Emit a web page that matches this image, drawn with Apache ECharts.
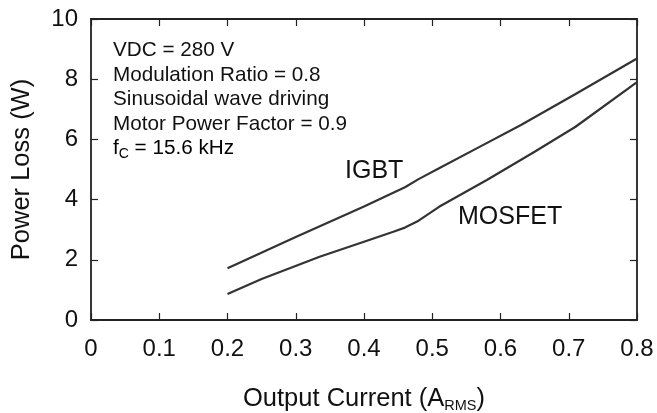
<!DOCTYPE html>
<html>
<head>
<meta charset="utf-8">
<script src="https://cdn.jsdelivr.net/npm/echarts@6/dist/echarts.min.js"></script>
<style>
  html, body { margin: 0; padding: 0; background: #fff; }
  #chart { width: 657px; height: 413px; }
</style>
</head>
<body>
<div id="chart"></div>
<script>
// values
var igbtX = [0.2, 0.3, 0.4, 0.46, 0.48, 0.51, 0.57, 0.63, 0.71, 0.8]
var igbtY = [1.72, 2.76, 3.77, 4.41, 4.68, 5.04, 5.76, 6.48, 7.51, 8.69]
var mosX = [0.2, 0.25, 0.335, 0.4, 0.443, 0.46, 0.48, 0.51, 0.58, 0.65, 0.71, 0.8]
var mosY = [0.86, 1.36, 2.10, 2.60, 2.93, 3.07, 3.30, 3.76, 4.65, 5.59, 6.42, 7.90]
var conditions = ['VDC = 280 V', 'Modulation Ratio = 0.8', 'Sinusoidal wave driving', 'Motor Power Factor = 0.9']

var font = 'Liberation Sans, Arial, sans-serif'
var ink = '#111'
var lineColor = '#333'

function pairs (xs, ys) {
  return xs.map(function (x, i) { return [x, ys[i]] })
}

var chart = echarts.init(document.getElementById('chart'))

var axisLine = { show: true, onZero: false, lineStyle: { color: '#222', width: 1.8 } }
var axisTick = { show: true, inside: true, length: 7, lineStyle: { color: '#222', width: 1.2 } }

var texts = conditions.map(function (t, i) {
  return {
    type: 'text',
    left: 113,
    top: 40 + i * 24.6,
    style: { text: t, font: '20.7px ' + font, fill: ink }
  }
})
texts.push({
  type: 'text',
  left: 113,
  top: 138,
  style: {
    text: '{a|f}{s|C}{a| = 15.6 kHz}',
    rich: {
      a: { fontSize: 20.7, fontFamily: font, color: ink },
      s: { fontSize: 14, fontFamily: font, color: ink, padding: [12, 0, 0, 0] }
    }
  }
})
texts.push({
  type: 'text', left: 345, top: 159,
  style: { text: 'IGBT', font: '25px ' + font, fill: ink }
})
texts.push({
  type: 'text', left: 458, top: 205,
  style: { text: 'MOSFET', font: '25px ' + font, fill: ink }
})

var option = {
  animation: false,
  backgroundColor: '#fff',
  grid: { left: 91, right: 20, top: 19, bottom: 93, outerBoundsMode: 'none', containLabel: false },
  xAxis: [{
    type: 'value',
    min: 0,
    max: 0.8,
    interval: 0.1,
    position: 'bottom',
    axisLine: axisLine,
    axisTick: axisTick,
    splitLine: { show: false },
    axisLabel: { color: ink, fontSize: 24, fontFamily: font, margin: 17 },
    name: 'Output Current (A{s|RMS})',
    nameLocation: 'middle',
    nameGap: 65,
    nameTextStyle: {
      color: ink, fontSize: 25.5, fontFamily: font,
      rich: { s: { fontSize: 14.5, fontFamily: font, color: ink, padding: [13, 0, 0, 0] } }
    }
  }, {
    type: 'value',
    min: 0,
    max: 0.8,
    interval: 0.1,
    position: 'top',
    axisLine: axisLine,
    axisTick: axisTick,
    splitLine: { show: false },
    axisLabel: { show: false }
  }],
  yAxis: [{
    type: 'value',
    min: 0,
    max: 10,
    interval: 2,
    position: 'left',
    axisLine: axisLine,
    axisTick: axisTick,
    splitLine: { show: false },
    axisLabel: { color: ink, fontSize: 24, fontFamily: font, margin: 13 },
    name: 'Power Loss (W)',
    nameLocation: 'middle',
    nameGap: 56,
    nameTextStyle: { color: ink, fontSize: 25.5, fontFamily: font }
  }, {
    type: 'value',
    min: 0,
    max: 10,
    interval: 2,
    position: 'right',
    axisLine: axisLine,
    axisTick: axisTick,
    splitLine: { show: false },
    axisLabel: { show: false }
  }],
  series: [{
    name: 'IGBT',
    type: 'line',
    data: pairs(igbtX, igbtY),
    showSymbol: false,
    lineStyle: { color: lineColor, width: 2.2 }
  }, {
    name: 'MOSFET',
    type: 'line',
    data: pairs(mosX, mosY),
    showSymbol: false,
    lineStyle: { color: lineColor, width: 2.2 }
  }],
  graphic: texts
}

chart.setOption(option)
</script>
</body>
</html>
